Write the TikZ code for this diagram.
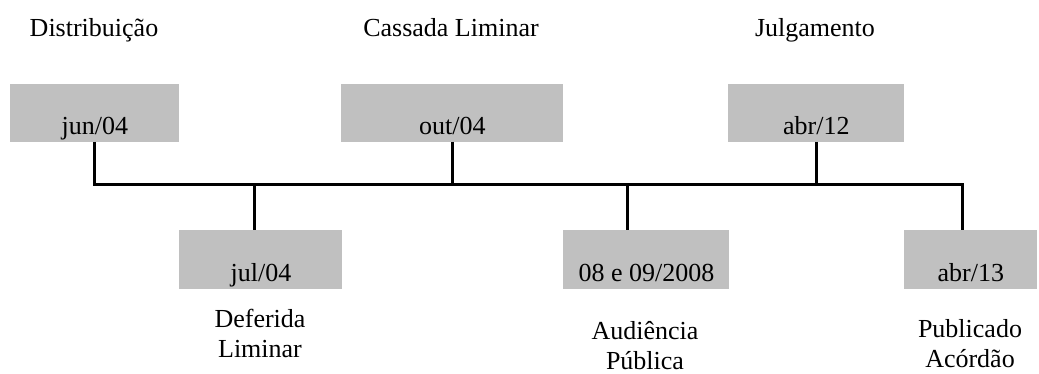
\documentclass[tikz,border=0pt]{standalone}
\usepackage{fontspec}
\setmainfont{Liberation Serif}
\usepackage{xcolor}
\usepackage{tikz}
\usetikzlibrary{positioning,calc}

\definecolor{boxgray}{RGB}{192,192,192}

\begin{document}
\begin{tikzpicture}[
    x=0.5pt, y=0.5pt,
    datebox/.style={rectangle, fill=boxgray, inner xsep=0pt, inner ysep=0pt, text height=25.5pt, text depth=3.5pt, font=\fontsize{13}{15}\selectfont},
    evt/.style={align=center, inner sep=0pt, anchor=base, font=\fontsize{13}{15}\selectfont},
    tl/.style={line width=1.5pt, black}
]
\useasboundingbox (0,0) rectangle (1039,374);

% upper dates
\node[datebox, minimum width=84.5pt, anchor=south west] (jun) at (10,232) {jun/04};
\node[datebox, minimum width=111pt, anchor=south west] (out) at (341,232) {out/04};
\node[datebox, minimum width=88pt, anchor=south west] (abrA) at (728,232) {abr/12};

% lower dates
\node[datebox, minimum width=81.5pt, minimum height=29.5pt, anchor=north west] (jul) at (179,144) {jul/04};
\node[datebox, minimum width=83pt, minimum height=29.5pt, anchor=north west] (aud) at (563,144) {08 e 09/2008};
\node[datebox, minimum width=66.5pt, minimum height=29.5pt, anchor=north west] (abrB) at (904,144) {abr/13};

% events (base = last line)
\node[evt] (dist) at (94,337) {Distribuição};
\node[evt] (cass) at (451,337) {Cassada Liminar};
\node[evt] (julg) at (815,337) {Julgamento};
\node[evt] (defe) at (260,16) {Deferida\\Liminar};
\node[evt] (audi) at (645,4) {Audiência\\Pública};
\node[evt] (publ) at (970,6) {Publicado\\Acórdão};

% timeline
\coordinate (axend) at (962,189);
\draw[tl] (jun.south) |- (axend) -- (axend |- abrB.north);
\draw[tl] (out.south) -- (out.south |- axend);
\draw[tl] (abrA.south) -- (abrA.south |- axend);
\draw[tl] ([xshift=-3.25pt]jul.north) -- ([xshift=-3.25pt]jul.north |- axend);
\draw[tl] ([xshift=-9.5pt]aud.north) -- ([xshift=-9.5pt]aud.north |- axend);

\end{tikzpicture}
\end{document}
